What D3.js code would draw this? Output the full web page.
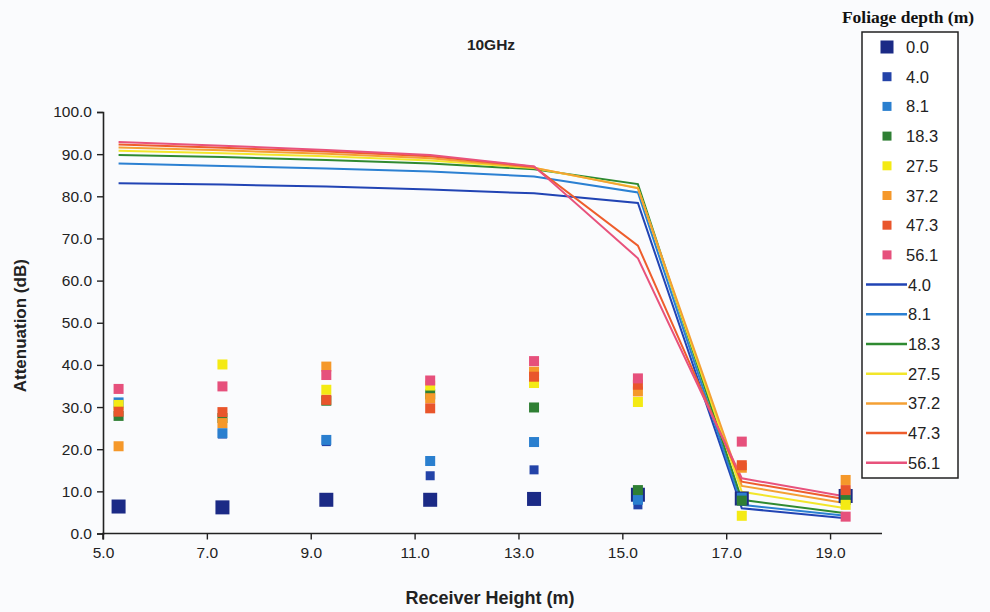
<!DOCTYPE html>
<html>
<head>
<meta charset="utf-8">
<script src="https://cdn.jsdelivr.net/npm/d3@7"></script>
<style>
  html, body { margin: 0; padding: 0; background: #fafbfd; }
  svg { display: block; }
</style>
</head>
<body>
<svg id="chart" width="990" height="612"></svg>
<script>
// Receiver heights (m) at which attenuation was measured / modelled
const heights = [5.3, 7.3, 9.3, 11.3, 13.3, 15.3, 17.3, 19.3];

// Measured attenuation (dB) per foliage depth (m)
const measuredDepths = ["0.0", "4.0", "8.1", "18.3", "27.5", "37.2", "47.3", "56.1"];
const meas_0_0  = [6.4, 6.2, 8.0, 8.0, 8.2, 9.2, 8.3, 8.9];
const meas_4_0  = [30.8, 23.6, 21.8, 13.7, 15.1, 6.8, 8.0, 9.0];
const meas_8_1  = [31.1, 23.8, 22.2, 17.2, 21.7, 8.0, 8.5, 9.5];
const meas_18_3 = [27.9, 27.4, 31.5, 33.0, 29.9, 10.3, 7.8, 8.0];
const meas_27_5 = [30.5, 40.1, 34.1, 35.1, 35.7, 31.2, 4.2, 6.8];
const meas_37_2 = [20.7, 26.2, 39.6, 32.1, 38.4, 33.7, 15.6, 12.7];
const meas_47_3 = [28.9, 28.8, 31.7, 29.7, 37.2, 35.3, 16.2, 10.3];
const meas_56_1 = [34.3, 34.9, 37.6, 36.3, 40.9, 36.8, 21.8, 4.0];

// Predicted attenuation (dB) per foliage depth (m)
const modelDepths = ["4.0", "8.1", "18.3", "27.5", "37.2", "47.3", "56.1"];
const model_4_0  = [83.1, 82.8, 82.3, 81.6, 80.7, 78.4, 6.0, 3.6];
const model_8_1  = [87.8, 87.2, 86.6, 85.9, 84.7, 80.9, 6.8, 4.2];
const model_18_3 = [89.8, 89.3, 88.6, 87.8, 86.4, 82.9, 8.0, 4.8];
const model_27_5 = [90.8, 90.2, 89.5, 88.5, 86.7, 82.0, 9.9, 6.0];
const model_37_2 = [91.6, 90.9, 90.1, 89.0, 86.8, 81.9, 11.3, 7.2];
const model_47_3 = [92.3, 91.5, 90.6, 89.5, 87.0, 68.3, 12.3, 8.1];
const model_56_1 = [92.9, 92.0, 91.0, 89.8, 87.1, 65.3, 13.1, 8.8];

const xTicks = [5, 7, 9, 11, 13, 15, 17, 19];
const yTicks = [0, 10, 20, 30, 40, 50, 60, 70, 80, 90, 100];

const measured = [meas_0_0, meas_4_0, meas_8_1, meas_18_3, meas_27_5, meas_37_2, meas_47_3, meas_56_1];
const models = [model_4_0, model_8_1, model_18_3, model_27_5, model_37_2, model_47_3, model_56_1];

const markerColors = ["#1b2a86", "#2343a8", "#2a7fcf", "#2f7f34", "#f4ea14", "#f5982a", "#e9552b", "#e6507c"];
const markerSizes  = [14, 9, 10, 10, 10, 10, 10, 10];
const lineColors   = ["#2144b4", "#2b80d2", "#2f8a31", "#f2e62a", "#f4a034", "#ee5d2c", "#e8527c"];

const svg = d3.select("#chart");
const font = "'Liberation Sans', Arial, sans-serif";

const x = d3.scaleLinear().domain([5, 20]).range([103, 882]);
const y = d3.scaleLinear().domain([0, 100]).range([533.5, 112]);

// Title
svg.append("text")
  .attr("x", 491).attr("y", 50)
  .attr("text-anchor", "middle")
  .attr("font-family", font).attr("font-weight", "bold").attr("font-size", 15.5)
  .attr("fill", "#222")
  .text("10GHz");

// Axes
const yAxis = svg.append("g")
  .attr("transform", `translate(${x(5)},0)`)
  .call(d3.axisLeft(y).tickValues(yTicks).tickFormat(d3.format(".1f")).tickSize(6).tickPadding(5));
const xAxis = svg.append("g")
  .attr("transform", `translate(0,${y(0)})`)
  .call(d3.axisBottom(x).tickValues(xTicks).tickFormat(d3.format(".1f")).tickSize(6).tickPadding(7));
[xAxis, yAxis].forEach(g => {
  g.select(".domain").attr("stroke", "#222").attr("stroke-width", 1.6);
  g.selectAll(".tick line").attr("stroke", "#222").attr("stroke-width", 1.4);
  g.selectAll(".tick text").attr("font-family", font).attr("font-size", 15.5).attr("fill", "#222");
});
// x axis extends to the plot's right edge (20 m)
xAxis.select(".domain").attr("d", `M${x(5)},6V0H${x(20)}`);

// Axis titles
svg.append("text")
  .attr("x", 490).attr("y", 604)
  .attr("text-anchor", "middle")
  .attr("font-family", font).attr("font-weight", "bold").attr("font-size", 18)
  .attr("fill", "#222")
  .text("Receiver Height (m)");
svg.append("text")
  .attr("transform", `translate(26,${(y(0) + y(100)) / 2 + 3}) rotate(-90)`)
  .attr("text-anchor", "middle")
  .attr("font-family", font).attr("font-weight", "bold").attr("font-size", 17)
  .attr("fill", "#222")
  .text("Attenuation (dB)");

// Model lines
const line = d3.line().x((d, i) => x(heights[i])).y(d => y(d));
svg.append("g").selectAll("path")
  .data(models)
  .join("path")
  .attr("d", line)
  .attr("fill", "none")
  .attr("stroke", (d, i) => lineColors[i])
  .attr("stroke-width", 2);

// Measured points
measured.forEach((series, s) => {
  const sz = markerSizes[s];
  svg.append("g").selectAll("rect")
    .data(series)
    .join("rect")
    .attr("x", (d, i) => x(heights[i]) - sz / 2)
    .attr("y", d => y(d) - sz / 2)
    .attr("width", sz).attr("height", sz)
    .attr("fill", markerColors[s]);
});

// Legend
const lg = svg.append("g");
lg.append("text")
  .attr("x", 908).attr("y", 23)
  .attr("text-anchor", "middle")
  .attr("font-family", "'Liberation Serif', 'Times New Roman', serif")
  .attr("font-weight", "bold").attr("font-size", 17.5)
  .attr("fill", "#111")
  .text("Foliage depth (m)");
lg.append("rect")
  .attr("x", 862).attr("y", 32).attr("width", 96).attr("height", 446)
  .attr("fill", "#fff").attr("stroke", "#222").attr("stroke-width", 1.5);

const rowY = i => 47 + i * 29.7;
measuredDepths.forEach((lab, i) => {
  const sz = i === 0 ? 13 : 9;
  lg.append("rect")
    .attr("x", 887 - sz / 2).attr("y", rowY(i) - sz / 2)
    .attr("width", sz).attr("height", sz)
    .attr("fill", markerColors[i]);
  lg.append("text")
    .attr("x", 906).attr("y", rowY(i) + 6)
    .attr("font-family", font).attr("font-size", 16.5).attr("fill", "#222")
    .text(lab);
});
modelDepths.forEach((lab, j) => {
  const i = j + measuredDepths.length;
  lg.append("line")
    .attr("x1", 866).attr("x2", 907)
    .attr("y1", rowY(i)).attr("y2", rowY(i))
    .attr("stroke", lineColors[j]).attr("stroke-width", 2.5);
  lg.append("text")
    .attr("x", 908).attr("y", rowY(i) + 6)
    .attr("font-family", font).attr("font-size", 16.5).attr("fill", "#222")
    .text(lab);
});
</script>
</body>
</html>
